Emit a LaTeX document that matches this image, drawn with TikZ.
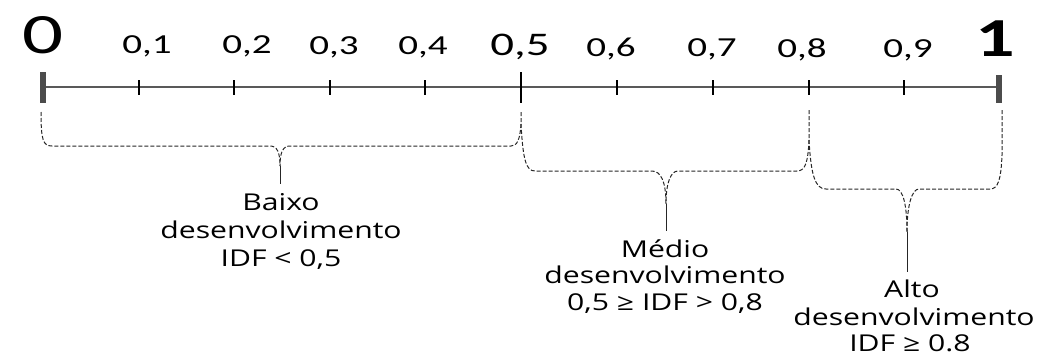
\documentclass[tikz,border=0pt]{standalone}
\usepackage{fontspec}
\setmainfont{Carlito}
\newfontfamily\txtfont{Open Sans}
\usepackage{graphicx}
\newcommand{\stx}[1]{\scalebox{1.42}[1]{#1}}
\newcommand{\sty}[1]{\scalebox{1.3}[1]{#1}}
\begin{document}
\begin{tikzpicture}[x=1pt,y=-1pt,
  lbl/.style={font=\fontsize{27.5}{27.5}\selectfont, anchor=base, inner sep=0pt},
  biglbl/.style={font=\fontsize{57}{57}\selectfont, anchor=base, inner sep=0pt},
  midlbl/.style={font=\fontsize{33}{33}\selectfont, anchor=base, inner sep=0pt},
  txt/.style={font=\txtfont\fontsize{23.2}{23.2}\selectfont, anchor=base, inner sep=0pt},
  axisline/.style={draw=black!65, line width=1.6pt},
  endtick/.style={draw=black!70, line width=5.5pt},
  halftick/.style={draw=black, line width=2.6pt},
  minortick/.style={draw=black, line width=2.4pt},
  brace/.style={draw=black!85, line width=1pt, dash pattern=on 4pt off 2pt},
  stem/.style={draw=black!85, line width=1pt}]
\useasboundingbox (0,0) rectangle (1038,356);
% axis coordinates
\coordinate (t0) at (43,87);
\coordinate (t1) at (139,87);
\coordinate (t2) at (234,87);
\coordinate (t3) at (330,87);
\coordinate (t4) at (425,87);
\coordinate (t5) at (521,87);
\coordinate (t6) at (617,87);
\coordinate (t7) at (713,87);
\coordinate (t8) at (809,87);
\coordinate (t9) at (904,87);
\coordinate (t10) at (999,87);
\draw[axisline] (t0) -- (t10);
\draw[endtick] (t0) ++(0,-15) -- ++(0,31);
\draw[endtick] (t10) ++(0,-12) -- ++(0,28);
\draw[halftick] (t5) ++(0,-15) -- ++(0,31);
\foreach \t in {t1,t2,t3,t4,t6,t7,t8,t9}
  \draw[minortick] (\t) ++(0,-7) -- ++(0,15);
% labels
\node[biglbl] (l0) at (43,53) {\stx{0}};
\node[lbl] (l1) at (147,53) {\stx{0,1}};
\node[lbl] (l2) at (247,53) {\stx{0,2}};
\node[lbl] (l3) at (334,54) {\stx{0,3}};
\node[lbl] (l4) at (423,54) {\stx{0,4}};
\node[midlbl] (l5) at (520,55) {\stx{0,5}};
\node[lbl] (l6) at (611,56) {\stx{0,6}};
\node[lbl] (l7) at (712,56) {\stx{0,7}};
\node[lbl] (l8) at (802,57) {\stx{0,8}};
\node[lbl] (l9) at (908,57) {\stx{0,9}};
\node[biglbl,font=\fontsize{55}{55}\selectfont\bfseries] (l10) at (995,56) {\stx{1}};
% braces
\coordinate (b1l) at (41,112);
\coordinate (b1r) at (521,112);
\coordinate (b2r) at (809,110);
\coordinate (b3r) at (1002,110);
\coordinate (c1) at (280,166);
\coordinate (c2) at (666,204);
\coordinate (c3) at (907,232);
\draw[brace] (b1l) .. controls (41,140) and (43,146) .. (52,146) -- (270,146)
  .. controls (277,146) and (280,152) .. (c1);
\draw[brace] (b1r) -- (521,124) .. controls (520,140) and (517,146) .. (511,146) -- (290,146)
  .. controls (283,146) and (280,152) .. (c1);
\draw[stem] (c1) -- (280,184);
\draw[brace] (521,124) .. controls (523,160) and (526,171) .. (535,171) -- (652,171)
  .. controls (661,171) and (666,182) .. (c2);
\draw[brace] (b2r) -- (809,140) .. controls (808,163) and (805,171) .. (797,171) -- (678,171)
  .. controls (671,171) and (666,182) .. (c2);
\draw[stem] (c2) -- (666,231);
\draw[brace] (809,140) .. controls (811,175) and (815,189) .. (826,189) -- (896,189)
  .. controls (903,189) and (907,205) .. (c3);
\draw[brace] (b3r) -- (1002,155) .. controls (1001,180) and (998,189) .. (990,189) -- (919,189)
  .. controls (912,189) and (907,205) .. (c3);
\draw[stem] (c3) -- (907,272);
% texts
\node[txt] (ba1) at (281,210) {\sty{Baixo}};
\node[txt] (ba2) at (281,238) {\sty{desenvolvimento}};
\node[txt] (ba3) at (281,266) {\sty{IDF < 0,5}};
\node[txt] (me1) at (665,257) {\sty{Médio}};
\node[txt] (me2) at (665,283) {\sty{desenvolvimento}};
\node[txt] (me3) at (665,310) {\sty{0,5 ≥ IDF > 0,8}};
\node[txt] (al1) at (912,297) {\sty{Alto}};
\node[txt] (al2) at (914,325) {\sty{desenvolvimento}};
\node[txt] (al3) at (910,351) {\sty{IDF ≥ 0.8}};
\end{tikzpicture}
\end{document}
